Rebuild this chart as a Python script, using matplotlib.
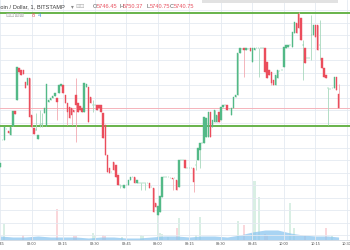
import matplotlib
matplotlib.use('Agg')
import matplotlib.pyplot as plt
import numpy as np
from matplotlib.patches import Rectangle

# BTC/USD 1-minute candles, minute 0 = 07:45
opens = [
    5717.2, 5728, 5728, 5732.4, 5731.6, 5730, 5733.6, 5739.6, 5744, 5756.8,
    5756, 5756, 5751.2, 5750, 5752.8, 5738, 5732.8, 5732, 5728.4, 5734,
    5734.4, 5738.8, 5733.6, 5743.2, 5744, 5744.8, 5745.6, 5744.8, 5746.8, 5749.6,
    5750, 5746, 5742.8, 5741.2, 5740.8, 5740, 5746, 5742.8, 5741.6, 5740.8,
    5739.2, 5749.2, 5749.2, 5745.2, 5742, 5742, 5742, 5742, 5742, 5738.8,
    5734, 5722, 5716.8, 5715.2, 5719.2, 5718, 5714, 5710, 5709.6, 5708.8,
    5710, 5710, 5712, 5713.2, 5713.2, 5710.8, 5710.8, 5710.8, 5710.8, 5710.8,
    5710.8, 5710.8, 5709.2, 5708.8, 5702.8, 5698, 5699.2, 5705.2, 5713.2, 5713.2,
    5713.2, 5712.8, 5712.8, 5712.8, 5712, 5709.2, 5720, 5720, 5720, 5716.8,
    5716.8, 5716.8, 5716.8, 5718, 5720, 5724, 5726.8, 5726.8, 5729.2, 5729.2,
    5739.2, 5733.2, 5735.2, 5735.2, 5739.2, 5736, 5741.2, 5742, 5742, 5740.4,
    5738, 5740.8, 5745.2, 5746, 5762.8, 5764.4, 5764.8, 5764, 5764.4, 5764.8,
    5759.2, 5764, 5764.8, 5764.8, 5764.8, 5764.8, 5764.8, 5759.2, 5756, 5755.2,
    5752, 5750, 5752.8, 5755.6, 5756, 5757.2, 5764.8, 5765.2, 5766, 5765.2,
    5770.8, 5774.8, 5778.4, 5776.8, 5766, 5764.8, 5760.8, 5760.8, 5770, 5770,
    5774, 5774, 5766, 5760.8, 5756.8, 5754, 5748.8, 5748.4, 5748.8, 5748.8,
    5753.2, 5746.45]
closes = [
    5718.8, 5728, 5733.2, 5732.4, 5730.8, 5733.2, 5739.6, 5738.4, 5757.2, 5755.2,
    5754, 5754.4, 5748.8, 5752.8, 5737.2, 5733.2, 5730.4, 5732, 5730, 5734,
    5734.4, 5740.8, 5750.4, 5744, 5744.8, 5745.6, 5746.8, 5743.2, 5750, 5750.4,
    5746.8, 5742.8, 5739.2, 5736.8, 5738, 5739.2, 5742, 5739.2, 5740, 5739.2,
    5750.8, 5750.4, 5735.2, 5742.8, 5742, 5742, 5740, 5740.8, 5739.2, 5728.8,
    5722, 5715.2, 5714.8, 5715.2, 5716, 5713.2, 5710, 5710, 5709.6, 5710,
    5710, 5712, 5713.2, 5713.2, 5710.8, 5712, 5710.8, 5710.8, 5710.8, 5710.8,
    5710.8, 5708.8, 5709.2, 5699.2, 5701.2, 5701.6, 5705.6, 5713.2, 5713.2, 5713.2,
    5713.2, 5712.8, 5712.4, 5712.8, 5708, 5720, 5720, 5720, 5716.8, 5716.8,
    5716.8, 5716.8, 5711.2, 5718, 5724.8, 5726.8, 5726.8, 5737.2, 5736.8, 5739.2,
    5729.2, 5736, 5740, 5738, 5735.2, 5741.2, 5742, 5742, 5740, 5740.4,
    5740.8, 5745.2, 5746, 5762.8, 5764.8, 5764.4, 5764, 5764.8, 5764.4, 5763.6,
    5764.8, 5764.8, 5764.8, 5764.8, 5764.8, 5764.8, 5755.2, 5752.8, 5754, 5750.8,
    5750, 5754, 5756, 5755.6, 5756, 5765.2, 5766, 5766, 5766, 5771.2,
    5775.2, 5770.8, 5772.8, 5768, 5766, 5758.8, 5760.8, 5760.8, 5770, 5774,
    5769.2, 5764, 5766, 5756.8, 5753.2, 5752.8, 5748.8, 5748.4, 5748.8, 5753.2,
    5748, 5740.75]

# candles with visible wicks beyond the body
wick_min = [17, 19, 20, 27, 32, 34, 36, 44, 57, 67, 69, 82, 92, 93, 95,
            116, 123, 129, 142, 144, 148, 152, 156, 161]
wick_high = [5738.8, 5740, 5738.8, 5744.8, 5742.8, 5740.8, 5752.8, 5744, 5710, 5710.8,
             5710.8, 5712.8, 5716.8, 5720, 5726.8, 5764.8, 5764.8, 5755.2, 5779.2, 5768,
             5778, 5776, 5748.8, 5750.37]
wick_low = [5732, 5733.2, 5733.2, 5736, 5734, 5734, 5727.2, 5739.2, 5708.8, 5708,
            5708, 5708, 5707.2, 5716, 5716.8, 5753.2, 5753.2, 5750, 5772.8, 5752,
            5760, 5760, 5734, 5740.75]

# volume (only the bars tall enough to see)
vol_min = [2, 11, 15, 27, 35, 36, 44, 45, 49, 50, 58, 67, 68, 75, 76, 77, 80,
           84, 85, 93, 95, 113, 116, 120, 121, 123, 126, 127, 138, 140, 145, 155, 158]
vol_val = [16, 5, 3, 31, 4, 4, 7, 5, 5, 4, 3, 5, 4, 25, 7, 6, 3,
           12, 22, 5, 23, 19, 15, 6, 59, 43, 6, 5, 37, 12, 4, 12, 4]

# blue indicator area at the bottom
blue_min = [0, 6, 12, 18, 24, 30, 36, 42, 48, 54, 60, 66, 72, 78, 84, 90, 96, 102,
            108, 114, 120, 126, 132, 138, 144, 150, 156, 161]
blue_val = [4, 3, 3, 4, 3, 3, 3, 2, 3, 3, 2, 2, 3, 4, 4, 3, 4, 4,
            3, 5, 8, 10, 10, 7, 5, 4, 4, 3]

levels = [5779, 5733.5]
last_price = 5740.75
tick_min = [0, 15, 30, 45, 60, 75, 90, 105, 120, 135, 150, 165]
tick_lab = ['07:45', '08:00', '08:15', '08:30', '08:45', '09:00',
            '09:15', '09:30', '09:45', '10:00', '10:15', '10:30']

GREEN = '#53b987'
RED = '#eb4d5c'

o = np.array(opens)
c = np.array(closes)
m = np.arange(len(o))
hi = np.maximum(o, c)
lo = np.minimum(o, c)
for i, h, l in zip(wick_min, wick_high, wick_low):
    hi[i] = max(hi[i], h)
    lo[i] = min(lo[i], l)
up = c >= o

W, H = 350, 250
fig = plt.figure(figsize=(3.5, 2.5), dpi=100)
rect = [0, 10 / H, 1, 240 / H]

# volume axes underneath
axv = fig.add_axes(rect)
axv.set_xlim(-0.08, 166.43)
axv.set_ylim(0, 240)
axv.axis('off')
vcol = [GREEN if up[i] else RED for i in vol_min]
axv.bar(vol_min, vol_val, width=1.0, color=vcol, alpha=0.22, linewidth=0)
axv.fill_between(blue_min, 0, blue_val, color='#8cc6f0', alpha=0.75, linewidth=0)

ax = fig.add_axes(rect)
ax.patch.set_alpha(0)
ax.set_xlim(-0.08, 166.43)
ax.set_ylim(5688, 5784)
ax.set_yticks(np.arange(5690, 5785, 5))
ax.set_xticks(tick_min)
ax.set_xticklabels(tick_lab, family='Liberation Sans')
ax.tick_params(axis='y', length=0, labelleft=False)
ax.tick_params(axis='x', length=0, pad=1.2, labelsize=2.8, labelcolor='#4a4a4a')
ax.grid(True, color='#e4eaf1', linewidth=0.6)
ax.set_axisbelow(True)
for s in ['top', 'left', 'right']:
    ax.spines[s].set_visible(False)
ax.spines['bottom'].set_color('#d3d9e0')
ax.spines['bottom'].set_linewidth(0.6)

ax.axhline(last_price, color='#f5b3ba', linewidth=0.7, zorder=1)
for lv in levels:
    ax.axhline(lv, color='#67b34b', linewidth=1.4, zorder=1)

wcol = np.where(up, '#a7d8bd', '#f2a9b1')
ax.vlines(m, lo, hi, colors=wcol, linewidth=0.6, zorder=2)
bcol = np.where(up, GREEN, RED)
ax.bar(m, c - o, bottom=o, width=0.72, color=bcol, edgecolor=bcol,
       linewidth=0.3, zorder=3)

# header
def fx(x):
    return x / W

def fy(y):
    return 1 - y / H

hdr = dict(fontsize=4.1, va='center', ha='left', family=['Liberation Sans', 'DejaVu Sans'])
fig.text(fx(-9), fy(6.5), 'Bitcoin / Dollar, 1, BITSTAMP', color='#3c3c3c', **hdr)
fig.text(fx(70.5), fy(6.5), '\u25be', color='#888888', **hdr)
fig.text(fx(75.5), fy(6.5), '\u229f\u22a1', color='#b0b0b0', **hdr)
ohlc = [('O', '5746.45', 93), ('H', '5750.37', 119), ('L', '5740.75', 146.5),
        ('C', '5740.75', 170)]
for k, v, x in ohlc:
    fig.text(fx(x), fy(6.5), k, color='#555555', **hdr)
    fig.text(fx(x + 3.4), fy(6.5), v, color='#e8505f', **hdr)
fig.text(fx(5), fy(15.5), '\u229f\u22a1\u229e\u22a0', color='#b0b0b0', **hdr)
fig.text(fx(31.5), fy(15.5), '8', color='#e8505f', **hdr)
fig.text(fx(37.5), fy(15.5), '4', color='#3d8fe0', **hdr)
fig.add_artist(Rectangle((fx(202), fy(2.7)), fx(136), 2.7 / H,
                         transform=fig.transFigure, color='#e2e2e2', linewidth=0))

fig.savefig('out.png', dpi=100)
